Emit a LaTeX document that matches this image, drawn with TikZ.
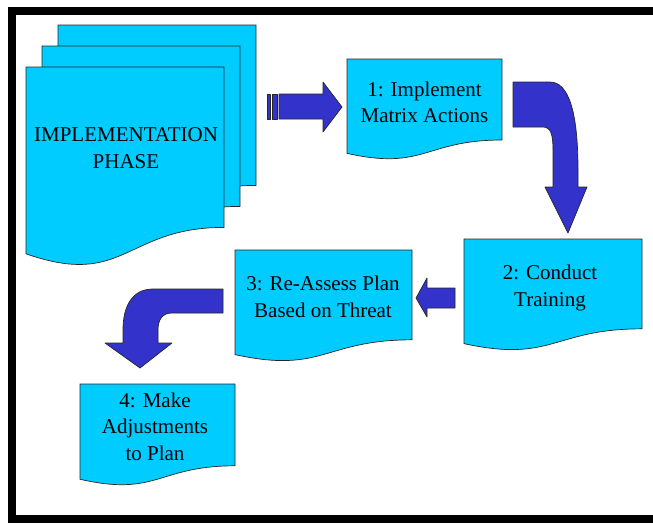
\documentclass[tikz,border=0pt]{standalone}
\usepackage{fontspec}
\setmainfont{LiberationSerif}[Extension=.ttf, UprightFont=*-Regular, BoldFont=*-Bold]
\newfontfamily\docfont{LiberationSerif}[Extension=.ttf, UprightFont=*-Regular]

\definecolor{docfill}{RGB}{0,204,255}
\definecolor{arrowfill}{RGB}{51,51,204}

\tikzset{
	docbox/.style={fill=docfill, draw=black!85, line width=0.7pt},
	blockarrow/.style={fill=arrowfill, draw=black!85, line width=0.7pt, line join=round},
	doctext/.style={align=center, inner sep=0pt, font=\docfont\fontsize{21}{26.5}\selectfont},
}

% document page: left, top, width, height
\newcommand{\docpage}[4]{%
	\filldraw[docbox] (#1,#2) -- ++(#3,0) -- ++(0,{0.802*#4})
	.. controls ({#1+0.5*#3},{#2+0.802*#4}) and ({#1+0.5*#3},{#2+1.1075*#4}) .. (#1,{#2+0.934*#4}) -- cycle;}

\begin{document}
\begin{tikzpicture}[x=1pt,y=-1pt]

	\useasboundingbox (0,0) rectangle (653,523);

	% frame
	\fill (8,7) rectangle (653,15);
	\fill (8,7) rectangle (16,523);
	\fill (8,515) rectangle (653,523);

	% stacked pages
	\docpage{58}{25}{198}{200}
	\docpage{42}{46}{198}{200}
	\docpage{26}{67}{198}{200}

	% step pages
	\docpage{347}{59}{155}{101}
	\docpage{464}{239}{178}{112}
	\docpage{235}{250}{177}{112}
	\docpage{80}{384}{155}{102}

	% labels
	\node[doctext] (phase)  at (126,148)   {IMPLEMENTATION\\PHASE};
	\node[doctext] (act)    at (424.5,102.5) {1: Implement\\Matrix Actions};
	\node[doctext] (train)  at (550,288)   {2: Conduct\\Training};
	\node[doctext] (assess) at (323,297)   {3: Re-Assess Plan\\Based on Threat};
	\node[doctext] (adjust) at (155,426.5) {4: Make\\Adjustments\\to Plan};

	% striped arrow
	\filldraw[blockarrow] (267,94) rectangle (270,119);
	\filldraw[blockarrow] (272,94) rectangle (277,119);
	\filldraw[blockarrow] (279,94) -- (323,94) -- (323,82) -- (342,107)
		-- (323,132) -- (323,119) -- (279,119) -- cycle;

	% bent arrow, step 1 to step 2
	\filldraw[blockarrow] (513,82) -- (550,82)
		.. controls (568,82) and (578,110) .. (578,170) -- (578,187)
		-- (587,187) -- (568,233) -- (545,187) -- (553,187) -- (553,150)
		.. controls (553,135) and (551,127) .. (543,127) -- (513,127) -- cycle;

	% short arrow, step 2 to step 3
	\filldraw[blockarrow] (455,288) -- (427,288) -- (427,278) -- (416,298)
		-- (427,317) -- (427,308) -- (455,308) -- cycle;

	% bent arrow, step 3 to step 4
	\filldraw[blockarrow] (223,289) -- (153,289)
		.. controls (133,289) and (123,305) .. (123,330) -- (123,343)
		-- (105,343) -- (140,368) -- (172,343) -- (158,343) -- (158,330)
		.. controls (158,320) and (162,313) .. (172,313) -- (223,313) -- cycle;

\end{tikzpicture}
\end{document}
